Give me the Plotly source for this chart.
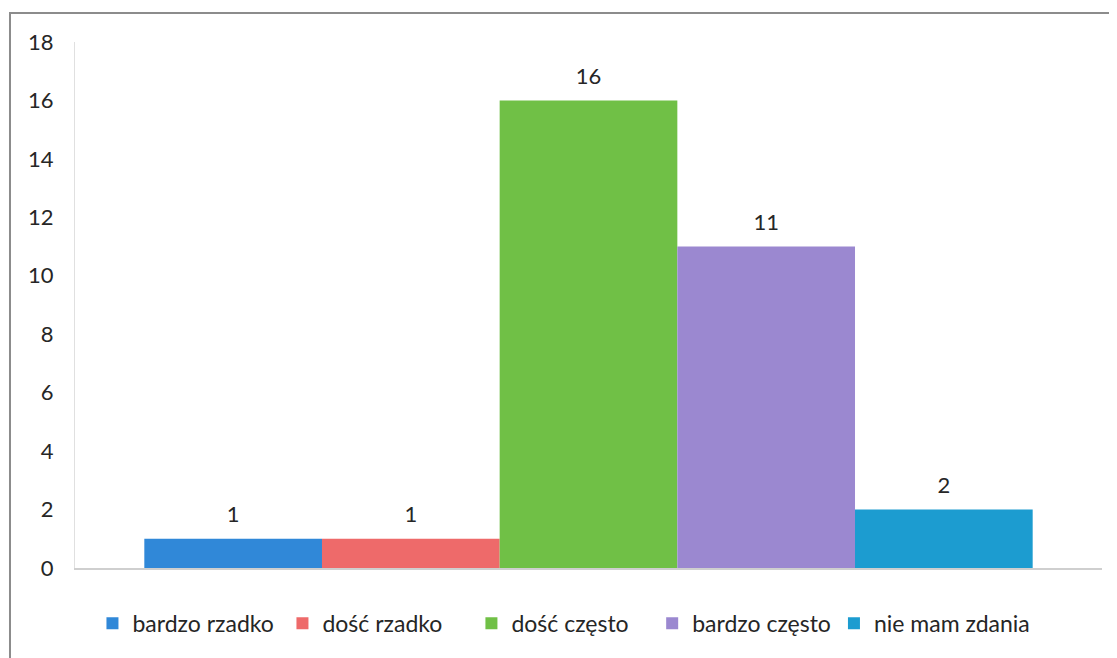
import plotly.graph_objects as go

# survey answers and counts, one series per answer
categories = ["bardzo rzadko", "dość rzadko", "dość często", "bardzo często", "nie mam zdania"]
counts = [1, 1, 16, 11, 2]
colors = ["#3088D8", "#EE6A6A", "#70C046", "#9B88D0", "#1C9CD0"]
group = ["ogółem"]

# left edge of each legend entry (paper units), spaced like the original
legend_x = [0.017, 0.202, 0.386, 0.562, 0.739]
legend_ids = ["legend", "legend2", "legend3", "legend4", "legend5"]

fig = go.Figure()

for name, value, color, lg in zip(categories, counts, colors, legend_ids):
    fig.add_trace(
        go.Bar(
            x=group,
            y=[value],
            name=name,
            offsetgroup=name,
            legend=lg,
            marker=dict(color=color, line=dict(width=0)),
        )
    )
    # value label sitting a bit above the bar
    fig.add_trace(
        go.Scatter(
            x=group,
            y=[value],
            offsetgroup=name,
            mode="markers+text",
            text=[value],
            textposition="top center",
            textfont=dict(size=22, color="#262626"),
            marker=dict(size=16, opacity=0),
            showlegend=False,
            hoverinfo="skip",
            cliponaxis=False,
        )
    )

# scanned frame around the chart
fig.add_shape(
    type="rect",
    xref="paper",
    yref="paper",
    x0=-0.0633,
    x1=1.2,
    y0=-0.3,
    y1=1.055,
    line=dict(color="#8c8c8c", width=2),
    fillcolor="rgba(0,0,0,0)",
    layer="below",
)

legend_style = dict(
    orientation="h",
    xanchor="left",
    y=-0.105,
    yanchor="middle",
    font=dict(size=23),
    itemwidth=30,
    bgcolor="rgba(0,0,0,0)",
)

# page body has an 8px margin, so the figure is a bit smaller than the window
fig.update_layout(
    width=1101,
    height=650,
    barmode="group",
    bargap=0.135,
    bargroupgap=0,
    scattermode="group",
    scattergap=0.135,
    plot_bgcolor="white",
    paper_bgcolor="white",
    font=dict(family="Lato, Noto Sans, sans-serif", color="#262626"),
    margin=dict(l=67, r=7, t=34, b=90, autoexpand=False),
    showlegend=True,
    xaxis=dict(
        showticklabels=False,
        showline=True,
        linecolor="#cfcfcf",
        linewidth=2,
        ticks="",
        showgrid=False,
        automargin=False,
    ),
    yaxis=dict(
        range=[0, 18],
        dtick=2,
        showgrid=False,
        zeroline=False,
        showline=True,
        linecolor="#e0e0e0",
        linewidth=1,
        ticks="",
        ticklabelstandoff=16,
        automargin=False,
        tickfont=dict(size=22, color="#262626"),
    ),
)

for lg, lx in zip(legend_ids, legend_x):
    fig.update_layout({lg: dict(legend_style, x=lx)})

fig.write_html("out.html")
